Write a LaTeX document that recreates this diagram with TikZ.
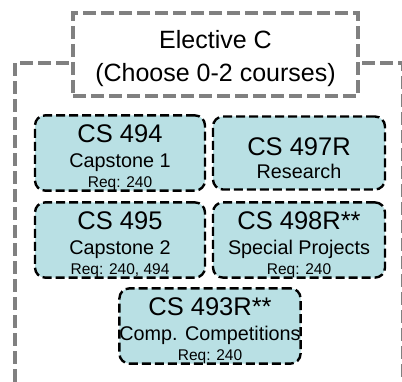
\documentclass[tikz,border=0pt]{standalone}
\usepackage{fontspec}
\setmainfont{Liberation Sans}
\usepackage{tikz}

\definecolor{coursefill}{RGB}{185,224,228}
\definecolor{framegray}{RGB}{128,128,128}

\tikzset{
    groupframe/.style={draw=framegray, line width=4pt, dash pattern=on 13pt off 5pt},
    course/.style={draw=black, fill=coursefill, line width=2.4pt, dash pattern=on 9pt off 4pt,
        rounded corners=10pt, inner sep=0pt, align=center, minimum height=73pt,
        font=\fontsize{20}{25}\selectfont},
}
\newcommand{\ccode}[1]{{\fontsize{25.5}{25}\selectfont\rule{0pt}{27pt}#1}}
\newcommand{\cname}[1]{{\fontsize{19.8}{25}\selectfont #1}}
\newcommand{\creq}[1]{{\fontsize{15.5}{25}\selectfont #1}}

\begin{document}
\begin{tikzpicture}[x=1pt, y=-1pt]
        \useasboundingbox (0,0) rectangle (402,382);
        % outer group frame
        \draw[groupframe] (15,400) -- (15,63) -- (402.5,63) -- (402.5,400);
        % title
        \node[groupframe, fill=white, minimum width=285pt, minimum height=83pt, inner sep=0pt, align=center,
            font=\fontsize{25}{33}\selectfont] (title) at (215.5,54.5)
            {\rule{0pt}{27pt}Elective C\\ (Choose 0-2 courses)};
        % courses
        \node[course, minimum width=170pt] (C494) at (120,153)
            {\ccode{CS 494}\\ \cname{Capstone 1}\\[-5pt] \creq{Req: 240}};
        \node[course, minimum width=172pt] (C497) at (299,153)
            {\ccode{\rule{0pt}{29pt}CS 497R}\\[-2pt] \cname{Research}};
        \node[course, minimum width=170pt] (C495) at (120,240)
            {\ccode{CS 495}\\ \cname{Capstone 2}\\[-5pt] \creq{Req: 240, 494}};
        \node[course, minimum width=172pt] (C498) at (299,240)
            {\ccode{CS 498R**}\\ \cname{Special Projects}\\[-5pt] \creq{Req: 240}};
        \node[course, minimum width=178pt] (C493) at (210,326)
            {\ccode{CS 493R**}\\ \cname{Comp. Competitions}\\[-5pt] \creq{Req: 240}};
    \end{tikzpicture}
\end{document}
